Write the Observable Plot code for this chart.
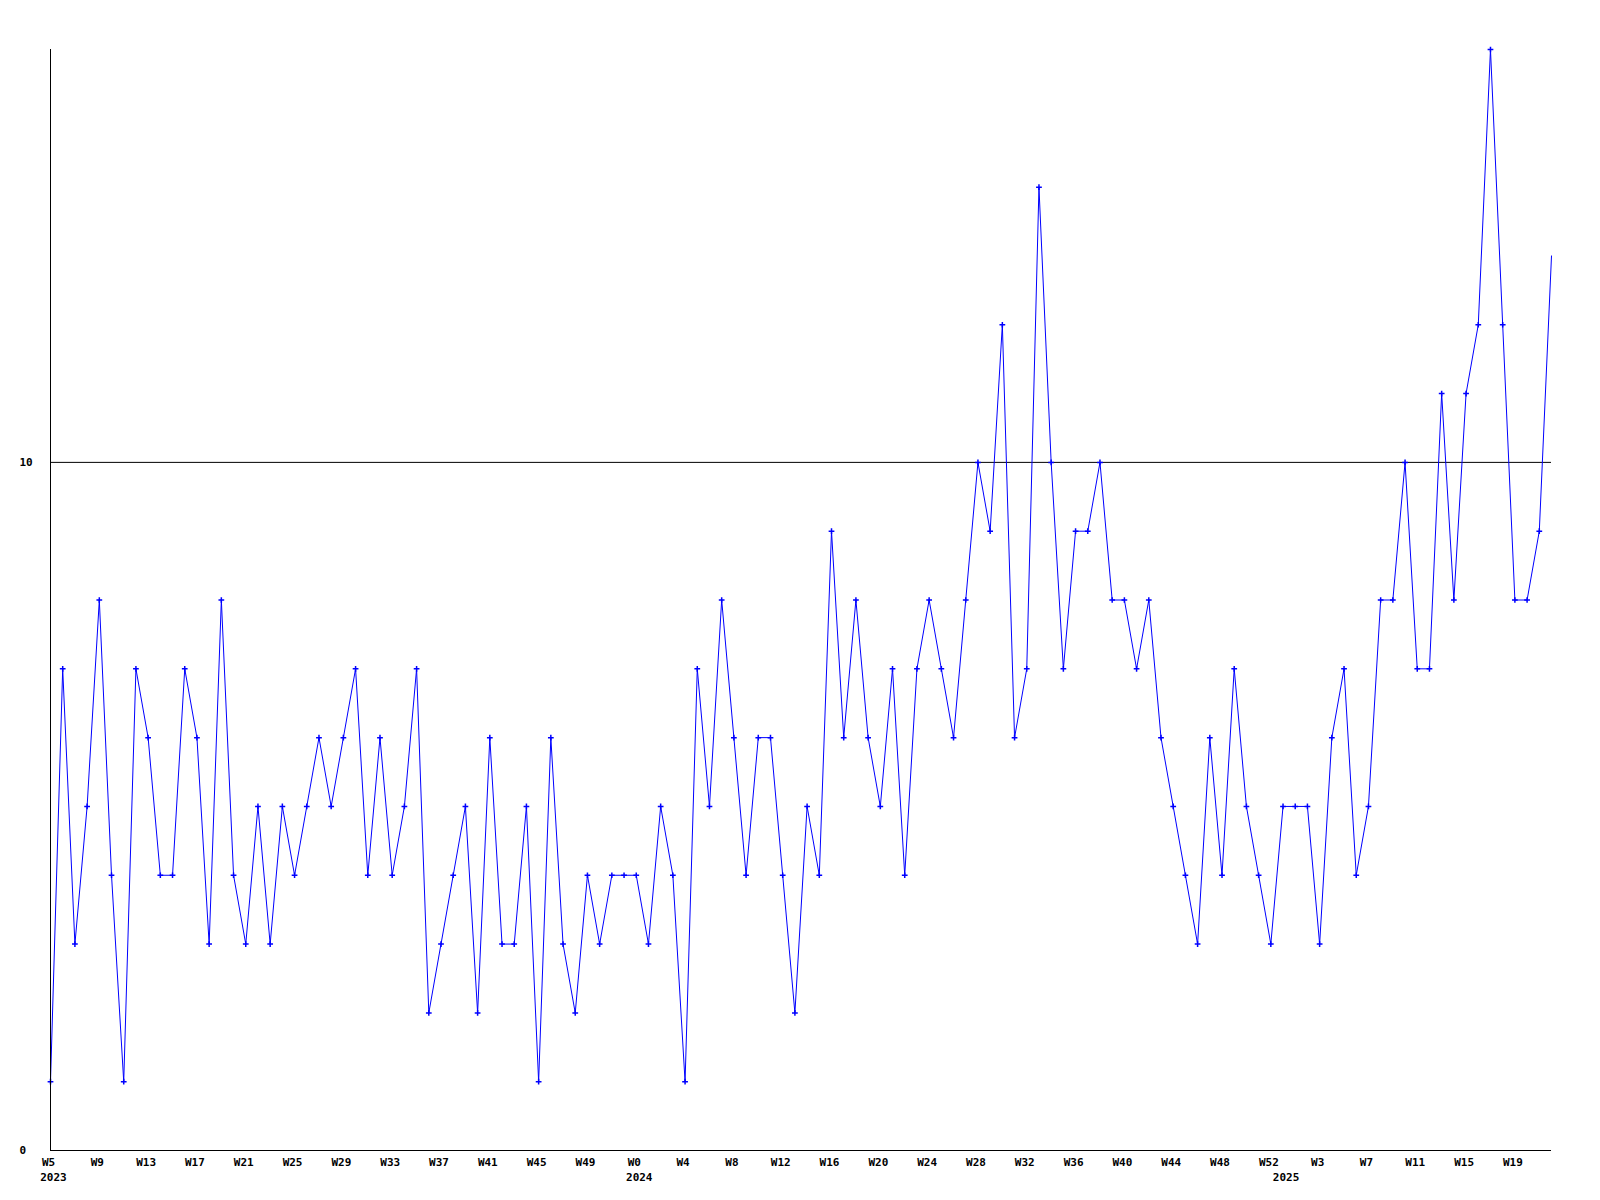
<!DOCTYPE html>
<html>
<head>
<meta charset="utf-8">
<script src="https://cdn.jsdelivr.net/npm/d3@7"></script>
<script src="https://cdn.jsdelivr.net/npm/@observablehq/plot@0.6"></script>
<style>
  html, body { margin: 0; padding: 0; background: #fff; }
  #chart svg { display: block; }
</style>
</head>
<body>
<div id="chart"></div>
<script>
// Weekly values, 2023 W5 → 2025 W22 (124 weeks)
const values = [
  1, 7, 3, 5, 8, 4, 1, 7, 6, 4, 4, 7, 6, 3, 8, 4, 3, 5, 3, 5,
  4, 5, 6, 5, 6, 7, 4, 6, 4, 5, 7, 2, 3, 4, 5, 2, 6, 3, 3, 5,
  1, 6, 3, 2, 4, 3, 4, 4, 4, 3, 5, 4, 1, 7, 5, 8, 6, 4, 6, 6,
  4, 2, 5, 4, 9, 6, 8, 6, 5, 7, 4, 7, 8, 7, 6, 8, 10, 9, 12, 6,
  7, 14, 10, 7, 9, 9, 10, 8, 8, 7, 8, 6, 5, 4, 3, 6, 4, 7, 5, 4,
  3, 5, 5, 5, 3, 6, 7, 4, 5, 8, 8, 10, 7, 7, 11, 8, 11, 12, 16, 12,
  8, 8, 9, 13
];

// Week tick labels and their positions (week index from start)
const weekTickIndex = [0, 4, 8, 12, 16, 20, 24, 28, 32, 36, 40, 44,
  48, 52, 56, 60, 64, 68, 72, 76, 80, 84, 88, 92, 96, 100,
  104, 108, 112, 116, 120];
const weekTickLabels = ["W5", "W9", "W13", "W17", "W21", "W25", "W29", "W33", "W37", "W41", "W45", "W49",
  "W0", "W4", "W8", "W12", "W16", "W20", "W24", "W28", "W32", "W36", "W40", "W44", "W48", "W52",
  "W3", "W7", "W11", "W15", "W19"];

// Year labels at the first week of each year
const yearTickIndex = [0, 48, 101];
const yearTickLabels = ["2023", "2024", "2025"];

// Y tick labels
const yTicks = [0, 10];
const yTickLabels = ["0", "10"];

const data = values.map((v, i) => ({i, v}));
const weekTicks = weekTickIndex.map((i, k) => ({i, label: weekTickLabels[k]}));
const yearTicks = yearTickIndex.map((i, k) => ({i, label: yearTickLabels[k]}));
const yTickData = yTicks.map((y, k) => ({y, label: yTickLabels[k]}));

const font = "'DejaVu Sans Mono', 'Liberation Mono', monospace";

const chart = Plot.plot({
  width: 1600,
  height: 1200,
  marginLeft: 50,
  marginRight: 49,
  marginTop: 49,
  marginBottom: 50,
  style: {fontFamily: font, fontSize: "11px", fontWeight: "bold", background: "#fff", color: "#000"},
  x: {type: "linear", domain: [0, values.length - 1], axis: null},
  y: {type: "linear", domain: [0, 16], axis: null},
  marks: [
    Plot.ruleY([10], {stroke: "#000", strokeWidth: 1}),
    Plot.line(data, {x: "i", y: "v", stroke: "#0000ff", strokeWidth: 1, curve: "linear"}),
    Plot.dot(data.slice(0, -1), {x: "i", y: "v", symbol: "plus", r: 2, stroke: "#0000ff", strokeWidth: 1.5}),
    Plot.ruleX([0], {stroke: "#000", strokeWidth: 1}),
    Plot.ruleY([0], {stroke: "#000", strokeWidth: 1}),
    Plot.text(weekTicks, {x: "i", y: () => 0, text: "label", textAnchor: "middle", dx: -2, dy: 12, fill: "#000", fontWeight: "bold"}),
    Plot.text(yearTicks, {x: "i", y: () => 0, text: "label", textAnchor: "middle", dx: 3, dy: 27, fill: "#000", fontWeight: "bold"}),
    Plot.text(yTickData, {y: "y", frameAnchor: "left", text: "label", textAnchor: "start", dx: -31, fill: "#000", fontWeight: "bold"})
  ]
});

document.getElementById("chart").appendChild(chart);
</script>
</body>
</html>
